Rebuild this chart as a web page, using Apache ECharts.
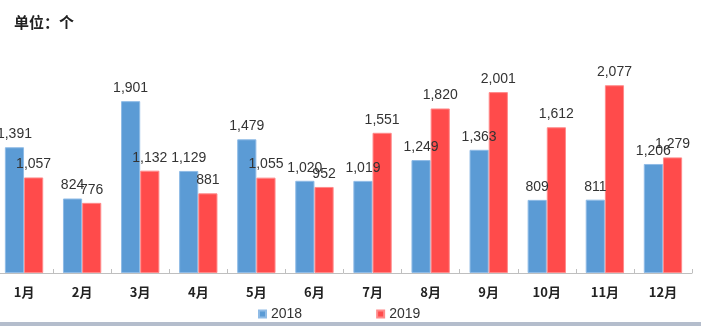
<!DOCTYPE html>
<html>
<head>
<meta charset="utf-8">
<script src="https://cdn.jsdelivr.net/npm/echarts@6/dist/echarts.min.js"></script>
<style>
  html, body { margin: 0; padding: 0; background: #fff; overflow: hidden; }
  /* plot area starts slightly left of the page edge */
  #chart { width: 706px; height: 326px; margin-left: -5px; }
</style>
</head>
<body>
<div id="chart"></div>
<script>
// Monthly counts, 2018 vs 2019
const months = ['1月', '2月', '3月', '4月', '5月', '6月', '7月', '8月', '9月', '10月', '11月', '12月'];
const values2018 = [1391, 824, 1901, 1129, 1479, 1020, 1019, 1249, 1363, 809, 811, 1206];
const values2019 = [1057, 776, 1132, 881, 1055, 952, 1551, 1820, 2001, 1612, 2077, 1279];

const fmt = v => v.toLocaleString('en-US');
const labelFont = "'Liberation Sans', Arial, sans-serif";

const chart = echarts.init(document.getElementById('chart'), null, { renderer: 'canvas' });

function barSeries(name, data, color, border) {
  return {
    name: name,
    type: 'bar',
    data: data,
    barGap: '0%',
    barCategoryGap: '34%',
    itemStyle: { color: color, borderColor: border, borderWidth: 1 },
    label: {
      show: true,
      position: 'top',
      distance: 6,
      color: '#333',
      fontFamily: labelFont,
      fontSize: 14,
      formatter: p => fmt(p.value)
    }
  };
}

chart.setOption({
  animation: false,
  backgroundColor: '#fff',
  title: {
    text: '单位：个',
    left: 14,
    top: 10,
    textStyle: { fontFamily: "'Noto Sans CJK SC', sans-serif", fontSize: 15, fontWeight: 'bold', color: '#222' }
  },
  legend: {
    left: 258,
    top: 302,
    itemWidth: 7,
    itemHeight: 7,
    itemGap: 74,
    icon: 'rect',
    textStyle: { fontFamily: labelFont, fontSize: 14, color: '#333' },
    data: ['2018', '2019']
  },
  grid: { left: 0, width: 697, top: 47, height: 226, containLabel: false },
  xAxis: {
    type: 'category',
    data: months,
    axisLine: { lineStyle: { color: '#bfbfbf', width: 1 } },
    axisTick: { show: true, length: 4, inside: true, lineStyle: { color: '#bfbfbf' } },
    axisLabel: {
      margin: 13,
      color: '#222',
      fontFamily: "'Noto Sans CJK SC', sans-serif",
      fontSize: 13,
      fontWeight: 'bold'
    }
  },
  yAxis: {
    type: 'value',
    min: 0,
    max: 2500,
    show: false,
    splitLine: { show: false }
  },
  series: [
    barSeries('2018', values2018, '#5b9bd5', '#8fbbe6'),
    barSeries('2019', values2019, '#ff4b4b', '#ff8a8a')
  ],
  graphic: [{
    type: 'rect',
    left: 0,
    top: 322,
    shape: { width: 706, height: 4 },
    style: { fill: '#b4bdcc' }
  }]
});
</script>
</body>
</html>
